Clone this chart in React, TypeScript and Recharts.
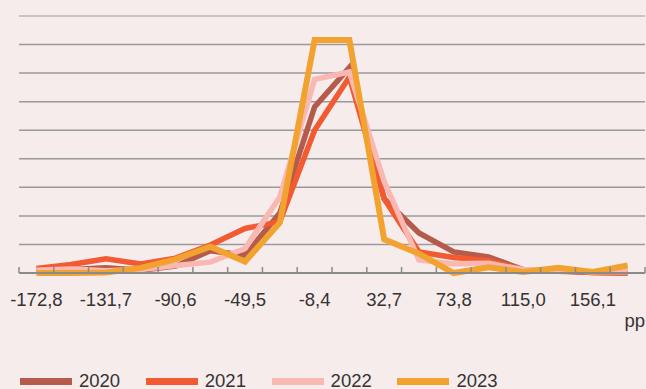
import React from "react";
import {
  LineChart,
  Line,
  XAxis,
  YAxis,
  CartesianGrid,
  ReferenceLine,
  Legend,
} from "recharts";

// bin labels (pp), every other one is printed on the axis
const categories = [
  "-172,8", "-152,3", "-131,7", "-111,2", "-90,6", "-70,1", "-49,5", "-29,0", "-8,4",
  "12,2", "32,7", "53,3", "73,8", "94,4", "115,0", "135,5", "156,1", "176,6",
];

const s2020 = [0.3, 0.6, 0.9, 0.5, 1.2, 3.9, 3.1, 10.5, 29.1, 36.0, 13.0, 7.0, 3.7, 2.8, 0.6, 0.4, 0.1, 0.0];
const s2021 = [0.8, 1.5, 2.5, 1.6, 2.6, 4.9, 7.8, 9.0, 25.0, 34.3, 13.0, 3.7, 2.7, 2.2, 0.5, 0.3, 0.1, 0.0];
const s2022 = [0.5, 0.7, 0.4, 0.6, 1.3, 1.9, 4.3, 13.3, 33.9, 35.2, 16.0, 2.3, 1.6, 1.7, 0.6, 0.5, 0.2, 0.2];
const s2023 = [0.0, 0.0, 0.1, 0.9, 2.4, 4.6, 2.0, 8.8, 40.8, 40.8, 5.9, 3.4, 0.0, 1.0, 0.2, 0.9, 0.2, 1.3];

const yTicks = [0, 5, 10, 15, 20, 25, 30, 35, 40];
const yMax = 45;

const series = [
  { key: "y2020", name: "2020", color: "#B55B4B", width: 5.5 },
  { key: "y2021", name: "2021", color: "#F25A32", width: 5.5 },
  { key: "y2022", name: "2022", color: "#F9B8B2", width: 5.5 },
  { key: "y2023", name: "2023", color: "#F2A22E", width: 6 },
];

const data = categories.map((cat, i) => ({
  idx: i,
  cat,
  y2020: s2020[i],
  y2021: s2021[i],
  y2022: s2022[i],
  y2023: s2023[i],
}));

// tick marks sit on the bin edges, labels on every other bin centre
const edgeTicks = categories.map((_, i) => i - 0.5).concat([categories.length - 0.5]);
const labelTicks = categories.map((_, i) => i).filter((i) => i % 2 === 0);
const allTicks = [...edgeTicks, ...labelTicks].sort((a, b) => a - b);

const FONT = "'Liberation Sans', Arial, sans-serif";

function AxisTick(props: any) {
  const { x, y, payload } = props;
  const v = payload.value;
  if (!Number.isInteger(v)) {
    return <line x1={x} x2={x} y1={y - 6} y2={y} stroke="#8a8a8a" strokeWidth={1.5} />;
  }
  return (
    <text x={x} y={y + 33} textAnchor="middle" fill="#333" fontSize={18.5} fontFamily={FONT}>
      {categories[v]}
    </text>
  );
}

function UnitLabel(props: any) {
  const { viewBox } = props;
  return (
    <text
      x={viewBox.x + viewBox.width}
      y={viewBox.y + 54}
      textAnchor="end"
      fill="#333"
      fontSize={18.5}
      fontFamily={FONT}
    >
      pp
    </text>
  );
}

function LegendContent() {
  return (
    <div style={{ display: "flex", height: 16, alignItems: "center", paddingLeft: 20 }}>
      {series.map((s) => (
        <div key={s.key} style={{ display: "flex", alignItems: "center", width: 125.8 }}>
          <span style={{ display: "inline-block", width: 52, height: 7, background: s.color }} />
          <span style={{ marginLeft: 7, fontSize: 18.5, color: "#333", fontFamily: FONT }}>{s.name}</span>
        </div>
      ))}
    </div>
  );
}

export default function App() {
  return (
    <div style={{ width: 646, height: 389, background: "#F7ECEC", fontFamily: FONT }}>
      <style>{`body{margin:0}`}</style>
      <LineChart
        width={646}
        height={389}
        data={data}
        margin={{ top: 16, right: 1, left: 19, bottom: 0 }}
      >
        <CartesianGrid vertical={false} stroke="#9a9a9a" strokeWidth={1.5} />
        <ReferenceLine y={yMax} stroke="#d3c9c9" strokeWidth={1.5} />
        <XAxis
          dataKey="idx"
          type="number"
          domain={[-0.5, categories.length - 0.5]}
          ticks={allTicks}
          interval={0}
          height={100}
          tickSize={0}
          tickMargin={0}
          tickLine={false}
          axisLine={{ stroke: "#8a8a8a", strokeWidth: 2 }}
          tick={<AxisTick />}
          label={<UnitLabel />}
        />
        <YAxis hide domain={[0, yMax]} ticks={yTicks} />
        <Legend
          verticalAlign="bottom"
          align="left"
          content={<LegendContent />}
          wrapperStyle={{ left: 0, bottom: 0, width: 646 }}
        />
        {series.map((s) => (
          <Line
            key={s.key}
            dataKey={s.key}
            name={s.name}
            stroke={s.color}
            strokeWidth={s.width}
            dot={false}
            activeDot={false}
            isAnimationActive={false}
          />
        ))}
      </LineChart>
    </div>
  );
}
